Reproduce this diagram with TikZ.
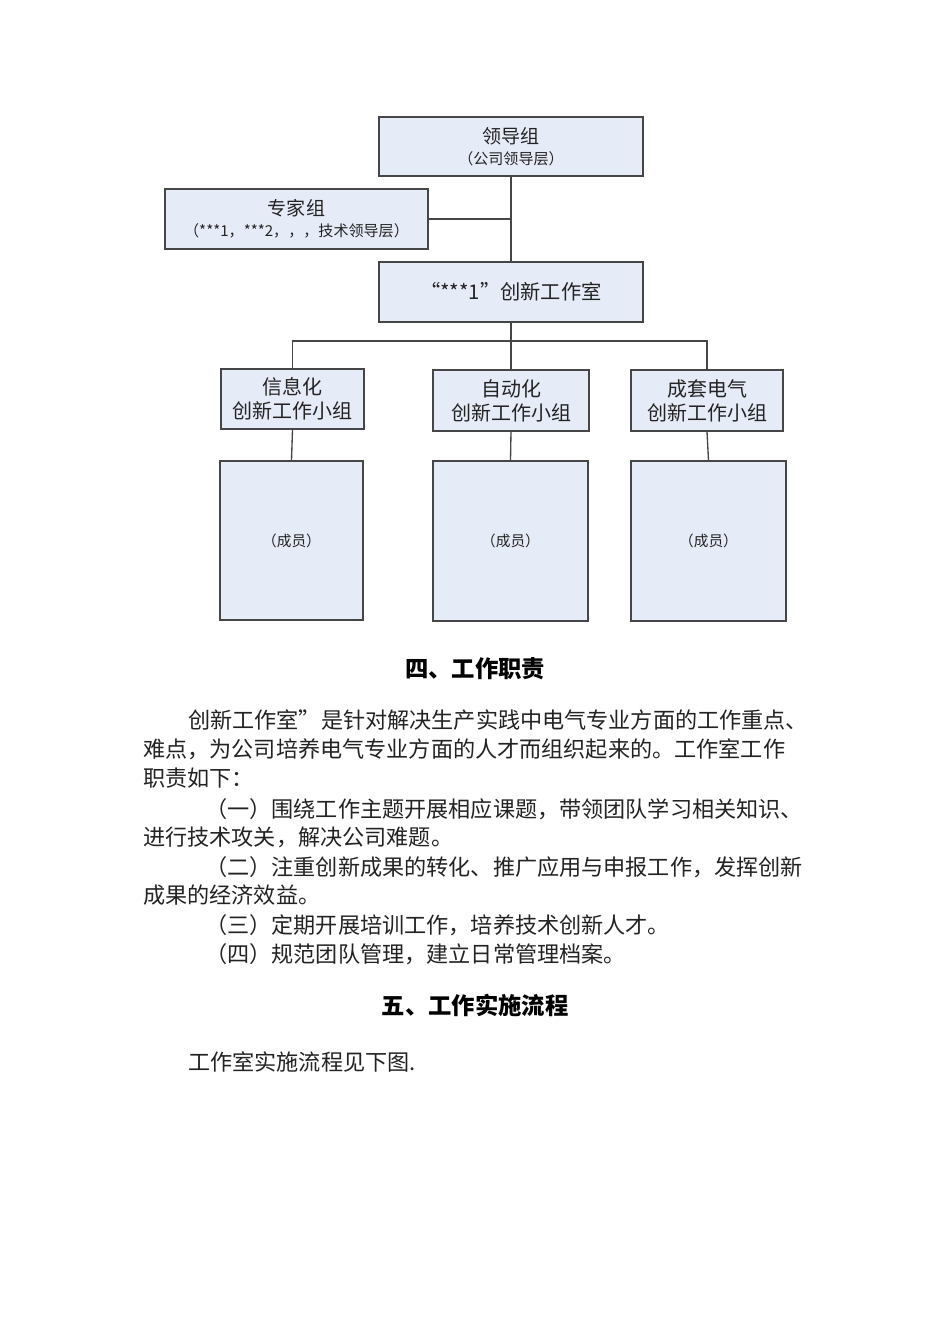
\documentclass[tikz,border=0pt]{standalone}
\usepackage{fontspec}
\setmainfont{Noto Sans CJK SC}
\usetikzlibrary{positioning}

\definecolor{boxblue}{RGB}{230,236,247}
\definecolor{boxline}{RGB}{70,70,70}
\definecolor{inktext}{RGB}{35,35,35}
\newcommand{\px}{0.75pt}

\begin{document}
\begin{tikzpicture}[x=0.75pt, y=-0.75pt,
    orgbox/.style={draw=boxline, fill=boxblue, line width=1pt, inner sep=0pt, align=center, text=inktext},
    grouptext/.style={font=\fontsize{15pt}{18pt}\selectfont},
    membertext/.style={font=\fontsize{11pt}{13pt}\selectfont},
    link/.style={draw=boxline, line width=1pt},
    bodyline/.style={anchor=base west, inner sep=0pt, text=inktext, font=\fontsize{16.6pt}{20pt}\selectfont},
    headline/.style={anchor=base, inner sep=0pt, text=black, font=\fontsize{17.5pt}{20pt}\selectfont\bfseries}]
    \fill[white] (0,0) rectangle (950,1344);
    \useasboundingbox (0,0) rectangle (950,1344);

    % top of the chart
    \node[orgbox, minimum width=264*\px, minimum height=59*\px] (lead) at (511,146.5)
        {{\fontsize{14.3pt}{18pt}\selectfont 领导组}\\[4pt]{\fontsize{11.3pt}{12pt}\selectfont （公司领导层）}};
    \node[orgbox, minimum width=263*\px, minimum height=60*\px] (expert) at (296.5,219)
        {{\fontsize{14.3pt}{18pt}\selectfont 专家组}\\[4pt]{\fontsize{11.3pt}{12pt}\selectfont （***1，***2，，，技术领导层）}};
    \node[orgbox, minimum width=264*\px, minimum height=60*\px, font=\fontsize{15.2pt}{18pt}\selectfont] (studio) at (511,292)
        {“***1”创新工作室};

    % groups
    \node[orgbox, grouptext, minimum width=143*\px, minimum height=60*\px] (info) at (292.5,399)
        {信息化\\创新工作小组};
    \node[orgbox, grouptext, minimum width=156*\px, minimum height=61*\px] (auto) at (511,400.5)
        {自动化\\创新工作小组};
    \node[orgbox, grouptext, minimum width=152*\px, minimum height=61*\px] (elec) at (707,400.5)
        {成套电气\\创新工作小组};

    % members
    \node[orgbox, membertext, minimum width=143*\px, minimum height=159*\px] (infom) at (291.5,540.5)
        {（成员）};
    \node[orgbox, membertext, minimum width=155*\px, minimum height=160*\px] (autom) at (510.5,541)
        {（成员）};
    \node[orgbox, membertext, minimum width=155*\px, minimum height=160*\px] (elecm) at (708.5,541)
        {（成员）};

    \coordinate (bus) at (511,341);
    \draw[link] (lead.south) -- (studio.north);
    \draw[link] (expert.east) -- (expert.east -| lead.south);
    \draw[link] (studio.south) -- (bus);
    \draw[link] (info.north) |- (bus) -| (elec.north);
    \draw[link] (bus) -- (auto.north);
    \draw[link] (info.south) -- (infom.north);
    \draw[link] (auto.south) -- (autom.north);
    \draw[link] (elec.south) -- (elecm.north);

    % text below
    \node[headline] (duty) at (475,677) {四、工作职责};
    \node[bodyline] (p1) at (188,728) {创新工作室”是针对解决生产实践中电气专业方面的工作重点、};
    \node[bodyline] (p2) at (143,757) {难点，为公司培养电气专业方面的人才而组织起来的。工作室工作};
    \node[bodyline] (p3) at (143,786) {职责如下：};
    \node[bodyline] (p4) at (205,817) {（一）围绕工作主题开展相应课题，带领团队学习相关知识、};
    \node[bodyline] (p5) at (143,845) {进行技术攻关，解决公司难题。};
    \node[bodyline] (p6) at (205,875) {（二）注重创新成果的转化、推广应用与申报工作，发挥创新};
    \node[bodyline] (p7) at (143,903) {成果的经济效益。};
    \node[bodyline] (p8) at (205,933) {（三）定期开展培训工作，培养技术创新人才。};
    \node[bodyline] (p9) at (205,962) {（四）规范团队管理，建立日常管理档案。};
    \node[headline] (flow) at (475,1014) {五、工作实施流程};
    \node[bodyline] (p10) at (188,1070) {工作室实施流程见下图.};
\end{tikzpicture}
\end{document}
